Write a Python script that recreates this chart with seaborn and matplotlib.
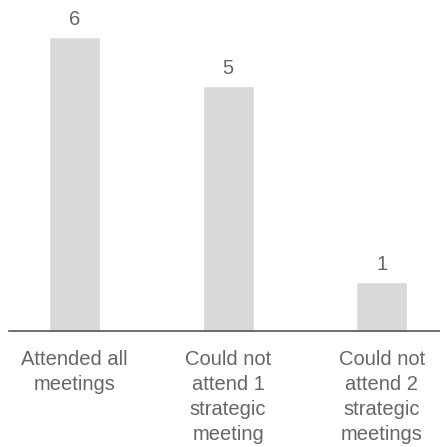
import matplotlib
matplotlib.use("Agg")
import matplotlib.pyplot as plt
import seaborn as sns
import pandas as pd

categories = [
    "Attended all\nmeetings",
    "Could not\nattend 1\nstrategic\nmeeting",
    "Could not\nattend 2\nstrategic\nmeetings",
]
counts = [6, 5, 1]

sns.set_theme(style="white")
plt.rcParams["font.family"] = ["Liberation Sans", "DejaVu Sans"]

df = pd.DataFrame({"category": categories, "count": counts})

fig = plt.figure(figsize=(4.40, 4.47), dpi=100)
ax = fig.add_axes([9 / 440, (447 - 331) / 447, 1 - 9 / 440, 331 / 447])

sns.barplot(data=df, x="category", y="count", color="#d9d9db",
            saturation=1, width=0.333, ax=ax)

for cont in ax.containers:
    ax.bar_label(cont, fmt="%d", padding=6, fontsize=14.5, color="#666666")

ax.set_xlim(-0.427, 2.38)
ax.set_ylim(0, 331 / 49)
ax.set_xlabel("")
ax.set_ylabel("")
ax.set_yticks([])
ax.tick_params(axis="x", length=0, pad=14, labelsize=14.5, labelcolor="#666666")
for lbl in ax.get_xticklabels():
    lbl.set_verticalalignment("top")
    lbl.set_linespacing(1.38)

for side in ["top", "right", "left"]:
    ax.spines[side].set_visible(False)
ax.spines["bottom"].set_color("#555555")
ax.spines["bottom"].set_linewidth(1.2)

fig.savefig("out.png", dpi=100)
